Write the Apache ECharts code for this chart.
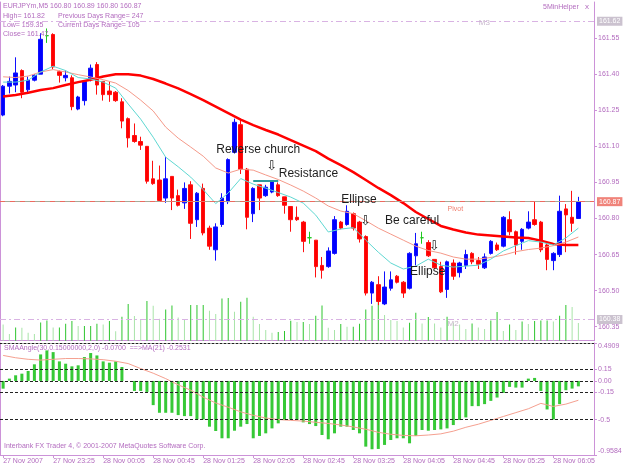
<!DOCTYPE html>
<html>
<head>
<meta charset="utf-8">
<script src="https://cdn.jsdelivr.net/npm/echarts@6.0.0/dist/echarts.min.js"></script>
<style>
  html, body { margin: 0; padding: 0; background: #fff; }
  #chart { width: 625px; height: 469px; }
</style>
</head>
<body>
<div id="chart"></div>
<script>
// EURJPYm M5 candles, [open, close, low, high]
var ohlc = [
  [161.23, 161.35, 161.225, 161.355], [161.35, 161.37, 161.32, 161.39], [161.355, 161.405, 161.325, 161.47],
  [161.415, 161.325, 161.30, 161.42], [161.335, 161.375, 161.325, 161.39], [161.375, 161.395, 161.37, 161.40],
  [161.40, 161.545, 161.40, 161.57], [161.56, 161.56, 161.53, 161.59], [161.565, 161.43, 161.42, 161.57],
  [161.41, 161.395, 161.365, 161.415], [161.385, 161.395, 161.37, 161.415], [161.385, 161.265, 161.25, 161.395],
  [161.255, 161.305, 161.25, 161.31], [161.29, 161.37, 161.27, 161.375], [161.38, 161.425, 161.37, 161.44],
  [161.44, 161.355, 161.315, 161.45], [161.37, 161.315, 161.29, 161.37], [161.33, 161.315, 161.285, 161.37],
  [161.325, 161.29, 161.285, 161.33], [161.285, 161.205, 161.175, 161.30], [161.215, 161.135, 161.095, 161.22],
  [161.145, 161.12, 161.115, 161.195], [161.12, 161.105, 161.085, 161.14], [161.10, 160.955, 160.945, 161.10],
  [160.965, 160.945, 160.94, 161.04], [160.96, 160.875, 160.87, 161.02], [160.885, 160.965, 160.865, 161.055],
  [160.975, 160.885, 160.835, 160.975], [160.895, 160.855, 160.85, 160.92], [160.865, 160.925, 160.84, 160.95],
  [160.94, 160.78, 160.715, 160.955], [160.795, 160.905, 160.765, 160.91], [160.925, 160.74, 160.73, 160.945],
  [160.76, 160.685, 160.67, 160.77], [160.67, 160.765, 160.625, 160.78], [160.775, 160.885, 160.765, 160.905],
  [160.87, 161.045, 160.86, 161.05], [161.075, 161.20, 161.07, 161.215], [161.19, 161.005, 160.985, 161.21],
  [161.005, 160.805, 160.755, 161.01], [160.82, 160.925, 160.785, 160.93], [160.94, 160.885, 160.835, 160.94],
  [160.895, 160.93, 160.89, 160.94], [160.91, 160.955, 160.905, 160.96], [160.94, 160.895, 160.89, 160.95],
  [160.89, 160.855, 160.82, 160.89], [160.85, 160.795, 160.745, 160.85], [160.805, 160.795, 160.79, 160.85],
  [160.785, 160.705, 160.66, 160.79], [160.72, 160.72, 160.695, 160.745], [160.71, 160.60, 160.555, 160.71],
  [160.605, 160.585, 160.55, 160.64], [160.60, 160.665, 160.595, 160.68], [160.655, 160.795, 160.65, 160.81],
  [160.785, 160.76, 160.755, 160.79], [160.775, 160.83, 160.77, 160.855], [160.82, 160.76, 160.75, 160.825],
  [160.785, 160.715, 160.70, 160.79], [160.725, 160.49, 160.48, 160.73], [160.49, 160.535, 160.445, 160.54],
  [160.525, 160.455, 160.44, 160.56], [160.445, 160.515, 160.44, 160.58], [160.51, 160.545, 160.50, 160.58],
  [160.56, 160.535, 160.53, 160.565], [160.535, 160.49, 160.47, 160.54], [160.51, 160.655, 160.505, 160.66],
  [160.645, 160.695, 160.605, 160.74], [160.72, 160.72, 160.695, 160.745], [160.70, 160.645, 160.64, 160.71],
  [160.63, 160.595, 160.59, 160.63], [160.60, 160.495, 160.49, 160.62], [160.505, 160.62, 160.47, 160.625],
  [160.615, 160.56, 160.545, 160.63], [160.575, 160.615, 160.555, 160.62], [160.605, 160.65, 160.59, 160.67],
  [160.655, 160.62, 160.61, 160.66], [160.625, 160.61, 160.59, 160.64], [160.595, 160.64, 160.59, 160.655],
  [160.655, 160.705, 160.65, 160.71], [160.69, 160.67, 160.665, 160.70], [160.685, 160.805, 160.68, 160.81],
  [160.795, 160.745, 160.73, 160.83], [160.745, 160.69, 160.65, 160.75], [160.705, 160.755, 160.67, 160.76],
  [160.76, 160.785, 160.755, 160.83], [160.795, 160.775, 160.77, 160.87], [160.785, 160.67, 160.66, 160.79],
  [160.69, 160.63, 160.585, 160.70], [160.625, 160.655, 160.585, 160.66], [160.65, 160.83, 160.64, 160.895],
  [160.84, 160.815, 160.66, 160.86], [160.805, 160.78, 160.745, 160.915], [160.80, 160.87, 160.80, 160.89]
];

// tick volume
var volumes = [
  49, 20, 40, 39, 24, 20, 55, 61, 40, 40,
  51, 59, 44, 44, 44, 51, 49, 59, 28, 72,
  110, 74, 62, 119, 105, 66, 94, 106, 70, 62,
  107, 107, 107, 90, 80, 127, 128, 87, 117, 129,
  72, 50, 32, 24, 26, 29, 60, 56, 56, 50,
  75, 106, 39, 32, 50, 42, 42, 51, 94, 105,
  117, 77, 62, 59, 40, 54, 84, 52, 71, 52,
  40, 72, 54, 49, 35, 52, 40, 35, 61, 86,
  29, 49, 32, 58, 50, 59, 61, 61, 58, 75,
  107, 101, 53
];

// moving averages, read every second bar (bars 0,2,4,...,92)
var maSlowPts = [161.307, 161.313, 161.323, 161.334, 161.342, 161.355, 161.367, 161.377, 161.390, 161.400,
  161.400, 161.394, 161.380, 161.361, 161.341, 161.317, 161.292, 161.265, 161.238, 161.211,
  161.188, 161.168, 161.149, 161.126, 161.103, 161.080, 161.049, 161.022, 160.993, 160.960,
  160.927, 160.897, 160.864, 160.827, 160.798, 160.769, 160.754, 160.742, 160.733, 160.729,
  160.725, 160.721, 160.719, 160.708, 160.694, 160.690, 160.690];
var maMidPts = [161.389, 161.386, 161.392, 161.409, 161.419, 161.409, 161.398, 161.388, 161.377, 161.363,
  161.332, 161.292, 161.247, 161.180, 161.134, 161.097, 161.059, 161.010, 160.989, 161.005,
  161.001, 160.981, 160.962, 160.939, 160.914, 160.885, 160.852, 160.831, 160.820, 160.791,
  160.760, 160.735, 160.710, 160.685, 160.667, 160.656, 160.640, 160.631, 160.631, 160.638,
  160.648, 160.662, 160.671, 160.677, 160.687, 160.702, 160.723];
var maFastPts = [161.367, 161.367, 161.375, 161.409, 161.433, 161.415, 161.386, 161.380, 161.367, 161.342,
  161.276, 161.213, 161.138, 161.055, 161.015, 160.972, 160.920, 160.862, 160.906, 160.966,
  160.943, 160.926, 160.908, 160.889, 160.864, 160.814, 160.744, 160.756, 160.762, 160.710,
  160.660, 160.615, 160.590, 160.602, 160.631, 160.606, 160.598, 160.602, 160.606, 160.631,
  160.665, 160.687, 160.708, 160.702, 160.690, 160.719, 160.760];

// SMAAngle histogram and its MA(21)
var angleValues = [
  -0.10, 0.03, 0.073, 0.094, 0.129, 0.215, 0.343, 0.395, 0.373, 0.253,
  0.223, 0.189, 0.202, 0.309, 0.361, 0.330, 0.253, 0.236, 0.253, 0.180,
  0.0, -0.129, -0.129, -0.142, -0.313, -0.412, -0.412, -0.412, -0.442, -0.455,
  -0.455, -0.498, -0.498, -0.592, -0.648, -0.742, -0.742, -0.644, -0.592, -0.558,
  -0.742, -0.712, -0.678, -0.614, -0.549, -0.506, -0.498, -0.506, -0.536, -0.558,
  -0.584, -0.700, -0.755, -0.678, -0.592, -0.592, -0.635, -0.678, -0.850, -0.884,
  -0.880, -0.828, -0.764, -0.742, -0.742, -0.807, -0.712, -0.635, -0.644, -0.635,
  -0.627, -0.614, -0.571, -0.506, -0.472, -0.326, -0.326, -0.300, -0.258, -0.215,
  -0.155, -0.077, -0.086, -0.086, 0.030, 0.039, -0.129, -0.369, -0.498, -0.300,
  -0.120, -0.099, -0.070
];
var angleMaPts = [0.33, 0.30, 0.28, 0.27, 0.28, 0.29, 0.29, 0.285, 0.275, 0.255,
  0.225, 0.16, 0.10, 0.03, -0.05, -0.12, -0.21, -0.285, -0.34, -0.40,
  -0.445, -0.48, -0.50, -0.51, -0.52, -0.535, -0.55, -0.57, -0.595, -0.625,
  -0.665, -0.69, -0.705, -0.71, -0.70, -0.685, -0.65, -0.60, -0.56, -0.51,
  -0.46, -0.41, -0.36, -0.29, -0.33, -0.30, -0.25];

// axis ticks
var priceTicks = [160.35, 160.50, 160.65, 160.80, 160.95, 161.10, 161.25, 161.40, 161.55];
var angleTicks = [0.4909, 0.15, 0, -0.15, -0.5, -0.9584];
var angleTickLabels = ['0.4909', '0.15', '0.00', '-0.15', '-0.5', '-0.9584'];
var angleLevels = [0.15, 0, -0.15, -0.5];
var xTickLabels = ['27 Nov 2007', '27 Nov 23:25', '28 Nov 00:05', '28 Nov 00:45', '28 Nov 01:25', '28 Nov 02:05',
  '28 Nov 02:45', '28 Nov 03:25', '28 Nov 04:05', '28 Nov 04:45', '28 Nov 05:25', '28 Nov 06:05'];

// horizontal lines
var m3Level = 161.62, bidLevel = 160.87, m2Level = 160.38, resistLevel = 160.956;

// text notes on the chart: [text, bar, price]
var notes = [
  ['Reverse church', 34, 161.084], ['\u21e9', 42, 161.014], ['Resistance', 44, 160.987],
  ['Ellipse', 54, 160.879], ['\u21e9', 57, 160.789], ['Be careful', 61, 160.789],
  ['\u21e9', 68, 160.685], ['Ellipse', 65, 160.577]
];

// 5 minute bars from 27 Nov 22:45, plus two empty slots on the right
var times = [];
for (var i = 0; i < 95; i++) {
  var m = 22 * 60 + 45 + i * 5;
  var day = m >= 1440 ? 28 : 27;
  m = m % 1440;
  times.push(day + ' Nov ' + ('0' + Math.floor(m / 60)).slice(-2) + ':' + ('0' + m % 60).slice(-2));
}

function everyOther(pts) {
  var out = [];
  for (var k = 0; k < pts.length; k++) {
    out[2 * k] = pts[k];
    if (k < pts.length - 1) out[2 * k + 1] = null;
  }
  return out;
}

var axisColor = '#cc92d8';
var textColor = '#b36cbf';
var font = 'Liberation Sans, Arial, sans-serif';

function txt(text, left, top, size, color) {
  return {
    text: text, left: left, top: top, padding: 0,
    textStyle: { fontSize: size || 7, fontWeight: 'normal', color: color || textColor, fontFamily: font }
  };
}

var noteData = notes.map(function (n) {
  var arrow = n[0] === '\u21e9';
  return {
    coord: [n[1], n[2]],
    label: {
      formatter: n[0],
      fontSize: arrow ? 13 : 12,
      fontFamily: arrow ? 'DejaVu Sans' : font
    }
  };
});
noteData.push({ coord: [71, 160.841], label: { formatter: 'Pivot', fontSize: 7, color: '#f08070' } });
noteData.push({ coord: [76, 161.612], label: { formatter: 'M3', fontSize: 8, color: '#c8b8cc' } });
noteData.push({ coord: [71, 160.363], label: { formatter: 'M2', fontSize: 8, color: '#c8b8cc' } });

var boxLabel = function (text, bg) {
  return { show: true, position: 'end', distance: 3, formatter: text, fontSize: 7, fontFamily: font,
    color: '#ffffff', backgroundColor: bg, padding: [1, 2] };
};

var chart = echarts.init(document.getElementById('chart'));

var option = {
  animation: false,
  backgroundColor: '#ffffff',
  title: [
    txt('EURJPYm,M5', 3, 3),
    txt('160.80 160.89 160.80 160.87', 50, 3),
    txt('High= 161.82', 3, 12.5),
    txt('Previous Days Range= 247', 58, 12.5),
    txt('Low= 159.35', 3, 22),
    txt('Current Days Range= 105', 58, 22),
    txt('Close= 161.47', 3, 31),
    txt('5MinHelper', 543, 4),
    txt('x', 585, 3, 8),
    txt('SMAAngle(30,0.15000000,2,0) -0.0700  ==>MA(21) -0.2531', 4, 345),
    txt('Interbank FX Trader 4, \u00a9 2001-2007 MetaQuotes Software Corp.', 4, 443)
  ],
  grid: [
    { left: 0, right: 31, top: 2, height: 338.7 },
    { left: 0, right: 31, top: 297.4, height: 43.3 },
    { left: 0, right: 31, top: 343, height: 112 }
  ],
  xAxis: [
    {
      gridIndex: 0, type: 'category', data: times,
      axisLine: { onZero: false, lineStyle: { color: axisColor } },
      axisTick: { show: false }, axisLabel: { show: false }
    },
    { gridIndex: 1, type: 'category', data: times, show: false },
    {
      gridIndex: 2, type: 'category', data: times,
      axisLine: { onZero: false, lineStyle: { color: axisColor } },
      axisTick: { show: true, interval: 7, alignWithLabel: true, length: 3, lineStyle: { color: axisColor } },
      axisLabel: {
        interval: 7, align: 'left', margin: 3, fontSize: 7, fontFamily: font, color: textColor,
        formatter: function (v, idx) { return idx % 8 === 0 ? xTickLabels[idx / 8] : ''; }
      }
    },
    {
      gridIndex: 2, type: 'category', data: times, position: 'top',
      axisLine: { onZero: false, lineStyle: { color: '#222222', type: [2, 2] } },
      axisTick: { show: false }, axisLabel: { show: false }
    }
  ],
  yAxis: [
    {
      gridIndex: 0, type: 'value', position: 'right', min: 160.292, max: 161.70,
      axisLine: { show: true, lineStyle: { color: axisColor } },
      axisTick: { show: true, length: 3, customValues: priceTicks, lineStyle: { color: axisColor } },
      axisLabel: {
        customValues: priceTicks, margin: 4, fontSize: 7, fontFamily: font, color: textColor,
        formatter: function (v) { return v.toFixed(2); }
      },
      splitLine: { show: false }
    },
    { gridIndex: 1, type: 'value', min: 0, max: 130, show: false },
    {
      gridIndex: 2, type: 'value', position: 'right', min: -0.9584, max: 0.4909,
      axisLine: { show: true, lineStyle: { color: axisColor } },
      axisTick: { show: true, length: 3, customValues: angleTicks, lineStyle: { color: axisColor } },
      axisLabel: {
        customValues: angleTicks, margin: 4, fontSize: 7, fontFamily: font, color: textColor,
        verticalAlignMinLabel: 'top', verticalAlignMaxLabel: 'bottom',
        formatter: function (v) {
          for (var k = 0; k < angleTicks.length; k++) {
            if (Math.abs(angleTicks[k] - v) < 1e-6) return angleTickLabels[k];
          }
          return '';
        }
      },
      splitLine: { show: false }
    },
    {
      gridIndex: 0, type: 'value', position: 'left', min: 160.292, max: 161.70,
      axisLine: { show: true, lineStyle: { color: axisColor } },
      axisTick: { show: false }, axisLabel: { show: false }, splitLine: { show: false }
    },
    {
      gridIndex: 2, type: 'value', position: 'left', min: -0.9584, max: 0.4909,
      axisLine: { show: true, lineStyle: { color: axisColor } },
      axisTick: { show: false }, axisLabel: { show: false }, splitLine: { show: false }
    }
  ],
  series: [
    {
      name: 'Volume', type: 'bar', xAxisIndex: 1, yAxisIndex: 1, barWidth: 1, z: 1,
      data: volumes,
      itemStyle: {
        color: function (p) {
          var i = p.dataIndex;
          return (i > 0 && volumes[i] >= volumes[i - 1]) ? '#2ec52e' : '#a8e4a8';
        }
      }
    },
    {
      name: 'EURJPYm', type: 'candlestick', xAxisIndex: 0, yAxisIndex: 0, z: 2,
      barWidth: 4,
      data: ohlc,
      itemStyle: {
        color: '#0000ff', color0: '#ff0000',
        borderColor: '#1010ff', borderColor0: '#ff1010', borderColorDoji: '#1ec81e', borderWidth: 1
      },
      markLine: {
        silent: true, symbol: 'none', animation: false,
        data: [
          { yAxis: m3Level, lineStyle: { color: '#d9b3e3', type: [6, 3, 2, 3], width: 1 }, label: boxLabel('161.62', '#cbc2cf') },
          { yAxis: bidLevel, lineStyle: { color: '#a6ab98', type: 'solid', width: 1 }, label: { show: false } },
          { yAxis: bidLevel, lineStyle: { color: '#ee6a60', type: [5, 5], width: 1 }, label: boxLabel('160.87', '#f0837a') },
          { yAxis: m2Level, lineStyle: { color: '#d9b3e3', type: [6, 3, 2, 3], width: 1 }, label: boxLabel('160.38', '#cbc2cf') },
          [
            { coord: [40, resistLevel], lineStyle: { color: '#2c9c9c', width: 2, type: 'solid' }, label: { show: false } },
            { coord: [44, resistLevel] }
          ]
        ]
      },
      markPoint: {
        silent: true, symbol: 'circle', symbolSize: 1, animation: false,
        itemStyle: { color: 'rgba(0,0,0,0)' },
        label: { show: true, position: 'right', distance: 0, color: '#1e1e1e', verticalAlign: 'middle' },
        data: noteData
      }
    },
    {
      name: 'MA slow', type: 'line', xAxisIndex: 0, yAxisIndex: 0, z: 3,
      data: everyOther(maSlowPts), connectNulls: true, symbol: 'none',
      lineStyle: { color: '#ff0000', width: 2.5 }
    },
    {
      name: 'MA mid', type: 'line', xAxisIndex: 0, yAxisIndex: 0, z: 3,
      data: everyOther(maMidPts), connectNulls: true, symbol: 'none',
      lineStyle: { color: '#f59a8a', width: 1 }
    },
    {
      name: 'MA fast', type: 'line', xAxisIndex: 0, yAxisIndex: 0, z: 3,
      data: everyOther(maFastPts), connectNulls: true, symbol: 'none',
      lineStyle: { color: '#5fd8d2', width: 1 }
    },
    {
      name: 'SMAAngle', type: 'bar', xAxisIndex: 2, yAxisIndex: 2, barWidth: 3,
      data: angleValues,
      itemStyle: { color: '#36c936' },
      markLine: {
        silent: true, symbol: 'none', animation: false, label: { show: false },
        lineStyle: { color: '#222222', type: [3, 2], width: 1 },
        data: angleLevels.map(function (v) { return { yAxis: v }; })
      }
    },
    {
      name: 'MA(21)', type: 'line', xAxisIndex: 2, yAxisIndex: 2, z: 3,
      data: everyOther(angleMaPts), connectNulls: true, symbol: 'none',
      lineStyle: { color: '#f5a090', width: 1 }
    }
  ]
};

chart.setOption(option);
</script>
</body>
</html>
